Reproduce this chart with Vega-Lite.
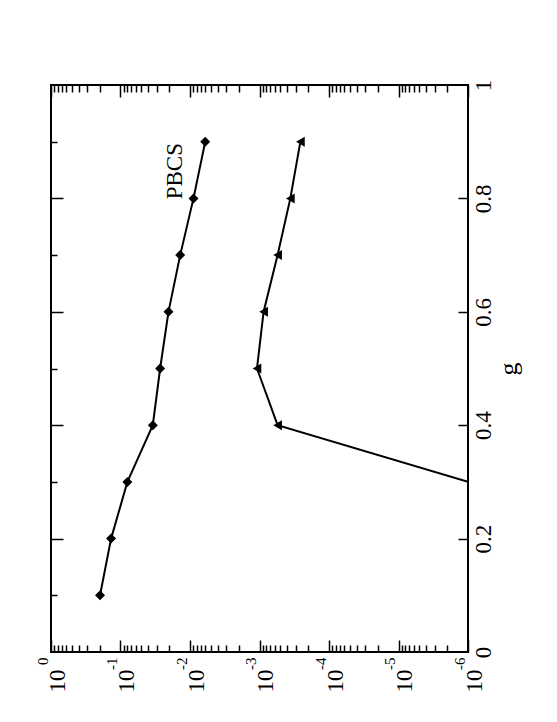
{
  "$schema": "https://vega.github.io/schema/vega-lite/v6.json",
  "width": 417,
  "height": 567,
  "autosize": {"type": "none"},
  "padding": {"left": 51, "top": 85, "right": 89, "bottom": 70},
  "background": "white",
  "config": {
    "view": {"stroke": "black", "strokeWidth": 2},
    "axis": {
      "domain": false, "grid": false, "tickColor": "black", "tickWidth": 1.5,
      "labelColor": "black", "labelFont": "Liberation Serif",
      "titleFont": "Liberation Serif", "titleColor": "black", "titleFontWeight": "normal",
      "labelFlush": false, "labelOverlap": false
    }
  },
  "datasets": {
    "curves": [
      {"series": "PBCS", "g": 0.1, "v": 0.197},
      {"series": "PBCS", "g": 0.2, "v": 0.1366},
      {"series": "PBCS", "g": 0.3, "v": 0.0796},
      {"series": "PBCS", "g": 0.4, "v": 0.0343},
      {"series": "PBCS", "g": 0.5, "v": 0.0269},
      {"series": "PBCS", "g": 0.6, "v": 0.0204},
      {"series": "PBCS", "g": 0.7, "v": 0.01384},
      {"series": "PBCS", "g": 0.8, "v": 0.00891},
      {"series": "PBCS", "g": 0.9, "v": 0.00604},
      {"series": "other", "g": 0.3, "v": 0.000001},
      {"series": "other", "g": 0.4, "v": 0.000549},
      {"series": "other", "g": 0.5, "v": 0.001087},
      {"series": "other", "g": 0.6, "v": 0.000873},
      {"series": "other", "g": 0.7, "v": 0.000549},
      {"series": "other", "g": 0.8, "v": 0.00036},
      {"series": "other", "g": 0.9, "v": 0.000258}
    ],
    "notes": [
      {"label": "PBCS", "g": 0.848, "v": 0.01633}
    ]
  },
  "layer": [
    {
      "data": {"name": "curves"},
      "mark": {"type": "line", "color": "black", "strokeWidth": 2, "clip": true},
      "encoding": {
        "x": {"field": "v", "type": "quantitative",
          "scale": {"type": "log", "domain": [0.000001, 1], "reverse": true},
          "axis": {"orient": "bottom", "values": [1, 0.1, 0.01, 0.001, 0.0001, 0.00001, 0.000001],
            "ticks": false, "labelExpr": "'10'", "labelAngle": -90, "labelAlign": "right",
            "labelBaseline": "middle", "labelFontSize": 23, "labelPadding": 17, "labelOffset": 6, "title": null}},
        "y": {"field": "g", "type": "quantitative", "scale": {"domain": [0, 1]},
          "axis": {"orient": "right", "values": [0, 0.2, 0.4, 0.6, 0.8, 1], "ticks": false,
            "labelExpr": "toString(round(datum.value*10)/10)", "labelAngle": -90, "labelAlign": "center",
            "labelBaseline": "top", "labelFontSize": 23, "labelPadding": 4,
            "title": "g", "titleAngle": -90, "titleFontSize": 26, "titlePadding": 26}},
        "detail": {"field": "series"},
        "order": {"field": "g", "type": "quantitative"}
      }
    },
    {
      "data": {"name": "curves"},
      "transform": [{"filter": "datum.v > 0.0000015"}],
      "mark": {"type": "point", "filled": true, "color": "black", "opacity": 1, "size": 100, "clip": true},
      "encoding": {
        "x": {"field": "v", "type": "quantitative",
          "scale": {"type": "log", "domain": [0.000001, 1], "reverse": true},
          "axis": {"orient": "bottom", "values": [1, 0.1, 0.01, 0.001, 0.0001, 0.00001, 0.000001],
            "ticks": false, "labelExpr": "'' + round(log(datum.value)/LN10)", "labelAngle": -90, "labelAlign": "right",
            "labelBaseline": "middle", "labelFontSize": 15, "labelPadding": 5, "labelOffset": -9, "title": null}},
        "y": {"field": "g", "type": "quantitative", "scale": {"domain": [0, 1]},
          "axis": {"orient": "left", "values": [0.2, 0.4, 0.6, 0.8], "labels": false, "tickSize": -12, "title": null}},
        "shape": {"field": "series", "type": "nominal",
          "scale": {"domain": ["PBCS", "other"], "range": ["diamond", "triangle-left"]}, "legend": null}
      }
    },
    {
      "data": {"name": "curves"},
      "mark": {"type": "line", "opacity": 0},
      "encoding": {
        "x": {"field": "v", "type": "quantitative",
          "scale": {"type": "log", "domain": [0.000001, 1], "reverse": true},
          "axis": {"orient": "bottom", "values": [1, 0.1, 0.01, 0.001, 0.0001, 0.00001, 0.000001],
            "labels": false, "tickSize": -12, "title": null}},
        "y": {"field": "g", "type": "quantitative", "scale": {"domain": [0, 1]},
          "axis": {"orient": "left", "values": [0.1, 0.3, 0.5, 0.7, 0.9], "labels": false, "tickSize": -6, "title": null}},
        "detail": {"field": "series"}
      }
    },
    {
      "data": {"name": "curves"},
      "mark": {"type": "line", "opacity": 0},
      "encoding": {
        "x": {"field": "v", "type": "quantitative",
          "scale": {"type": "log", "domain": [0.000001, 1], "reverse": true},
          "axis": {"orient": "bottom", "values": [0.9,0.8,0.7,0.6,0.5,0.4,0.3,0.2,0.09,0.08,0.07,0.06,0.05,0.04,0.03,0.02,0.009,0.008,0.007,0.006,0.005,0.004,0.003,0.002,0.0009,0.0008,0.0007,0.0006,0.0005,0.0004,0.0003,0.0002,9e-5,8e-5,7e-5,6e-5,5e-5,4e-5,3e-5,2e-5,9e-6,8e-6,7e-6,6e-6,5e-6,4e-6,3e-6,2e-6],
            "labels": false, "tickSize": -7, "title": null}},
        "y": {"field": "g", "type": "quantitative", "scale": {"domain": [0, 1]},
          "axis": {"orient": "right", "values": [0.2, 0.4, 0.6, 0.8], "labels": false, "tickSize": -10, "title": null}},
        "detail": {"field": "series"}
      }
    },
    {
      "data": {"name": "curves"},
      "mark": {"type": "line", "opacity": 0},
      "encoding": {
        "x": {"field": "v", "type": "quantitative",
          "scale": {"type": "log", "domain": [0.000001, 1], "reverse": true},
          "axis": {"orient": "top", "values": [1, 0.1, 0.01, 0.001, 0.0001, 0.00001, 0.000001],
            "labels": false, "tickSize": -12, "title": null}},
        "y": {"field": "g", "type": "quantitative", "scale": {"domain": [0, 1]}, "axis": null},
        "detail": {"field": "series"}
      }
    },
    {
      "data": {"name": "curves"},
      "mark": {"type": "line", "opacity": 0},
      "encoding": {
        "x": {"field": "v", "type": "quantitative",
          "scale": {"type": "log", "domain": [0.000001, 1], "reverse": true},
          "axis": {"orient": "top", "values": [0.9,0.8,0.7,0.6,0.5,0.4,0.3,0.2,0.09,0.08,0.07,0.06,0.05,0.04,0.03,0.02,0.009,0.008,0.007,0.006,0.005,0.004,0.003,0.002,0.0009,0.0008,0.0007,0.0006,0.0005,0.0004,0.0003,0.0002,9e-5,8e-5,7e-5,6e-5,5e-5,4e-5,3e-5,2e-5,9e-6,8e-6,7e-6,6e-6,5e-6,4e-6,3e-6,2e-6],
            "labels": false, "tickSize": -7, "title": null}},
        "y": {"field": "g", "type": "quantitative", "scale": {"domain": [0, 1]}, "axis": null},
        "detail": {"field": "series"}
      }
    },
    {
      "data": {"name": "notes"},
      "mark": {"type": "text", "angle": 270, "font": "Liberation Serif", "fontSize": 23, "color": "black", "align": "center", "baseline": "middle"},
      "encoding": {
        "x": {"field": "v", "type": "quantitative",
          "scale": {"type": "log", "domain": [0.000001, 1], "reverse": true}, "axis": null},
        "y": {"field": "g", "type": "quantitative", "scale": {"domain": [0, 1]}, "axis": null},
        "text": {"field": "label"}
      }
    }
  ],
  "resolve": {"axis": {"x": "independent", "y": "independent"}}
}
